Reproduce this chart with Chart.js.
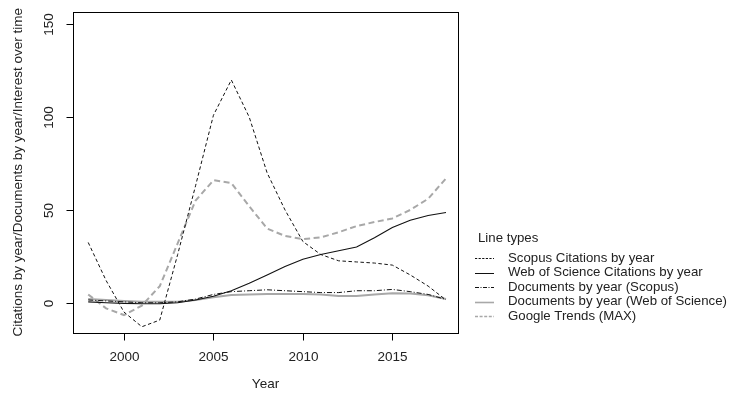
<!DOCTYPE html>
<html>
<head>
<meta charset="utf-8">
<script src="https://cdn.jsdelivr.net/npm/chart.js@4"></script>
<style>
  html, body { margin: 0; padding: 0; background: #fff; }
  #wrap { width: 731px; height: 394px; position: relative; }
</style>
</head>
<body>
<div id="wrap"><canvas id="chart"></canvas></div>
<script>
// values
const years = [1998, 1999, 2000, 2001, 2002, 2003, 2004, 2005, 2006, 2007, 2008,
               2009, 2010, 2011, 2012, 2013, 2014, 2015, 2016, 2017, 2018];
const scopusCitations = [32.5, 12, -5, -12.9, -9.3, 26, 63, 101, 120, 100, 70,
                         50, 33, 26, 22.6, 22, 21.4, 20.3, 15, 9, 1.5];
const wosCitations = [0.5, 0, -0.3, -0.5, -0.5, 0, 1.5, 3.5, 6.5, 10.5, 15,
                      19.5, 23.5, 26, 28, 30, 35, 40.5, 44.5, 47, 48.6];
const docsScopus = [1.5, 1, 0.5, 0, 0, 0.5, 2, 4.5, 6, 6.5, 7,
                    6.5, 6, 5.5, 5.5, 6.5, 6.5, 7.2, 6, 4.5, 1.8];
const docsWos = [2, 1.5, 1, 0.5, 0.5, 0.5, 1.5, 3, 4.2, 4.5, 4.8,
                 4.8, 4.8, 4.5, 3.6, 3.6, 4.5, 5.2, 5, 4, 2];
const googleTrends = [4.5, -3, -6.6, -1.5, 9, 32, 55, 66, 64.5, 52, 40,
                      36, 34.3, 35.2, 38, 41.3, 43.5, 45.4, 50, 56, 67];

const xTicks = [2000, 2005, 2010, 2015];
const yTicks = [0, 50, 100, 150];
const seriesNames = ['Scopus Citations by year', 'Web of Science Citations by year',
                     'Documents by year (Scopus)', 'Documents by year (Web of Science)',
                     'Google Trends (MAX)'];

const FONT = '"Liberation Sans", Arial, Helvetica, sans-serif';

function pts(values) {
    return years.map((y, i) => ({ x: y, y: values[i] }));
}

const styles = [
    { color: '#111', width: 1, dash: [3.5, 2.5], legendDash: [2.2, 1.4] },
    { color: '#111', width: 1.1, dash: [], legendDash: [] },
    { color: '#111', width: 1, dash: [5, 2, 1, 2], legendDash: [4, 1.5, 1, 1.5] },
    { color: '#a8a8a8', width: 2, dash: [], legendDash: [] },
    { color: '#a8a8a8', width: 2, dash: [6, 3.5], legendDash: [3, 1.6] }
];
const seriesValues = [scopusCitations, wosCitations, docsScopus, docsWos, googleTrends];

// axes, box and legend drawn R-style
const rFrame = {
    id: 'rFrame',
    afterDraw(chart) {
        const ctx = chart.ctx;
        const a = chart.chartArea;
        const xs = chart.scales.x, ys = chart.scales.y;
        ctx.save();
        ctx.strokeStyle = '#000';
        ctx.lineWidth = 1;
        ctx.setLineDash([]);
        ctx.strokeRect(Math.round(a.left) + 0.5, Math.round(a.top) + 0.5,
                       Math.round(a.right - a.left), Math.round(a.bottom - a.top));

        ctx.fillStyle = '#222';
        ctx.font = '13.5px ' + FONT;
        // x axis
        ctx.textAlign = 'center';
        ctx.textBaseline = 'middle';
        xTicks.forEach(t => {
            const px = Math.round(xs.getPixelForValue(t)) + 0.5;
            ctx.beginPath();
            ctx.moveTo(px, Math.round(a.bottom) + 0.5);
            ctx.lineTo(px, Math.round(a.bottom) + 7.5);
            ctx.stroke();
            ctx.fillText(String(t), px, 357);
        });
        ctx.fillText('Year', (a.left + a.right) / 2, 384);

        // y axis, labels rotated like R's default
        yTicks.forEach(t => {
            const py = Math.round(ys.getPixelForValue(t)) + 0.5;
            ctx.beginPath();
            ctx.moveTo(Math.round(a.left) + 0.5, py);
            ctx.lineTo(Math.round(a.left) - 6.5, py);
            ctx.stroke();
            ctx.save();
            ctx.translate(49, py);
            ctx.rotate(-Math.PI / 2);
            ctx.fillText(String(t), 0, 0);
            ctx.restore();
        });
        ctx.save();
        ctx.translate(18, (a.top + a.bottom) / 2);
        ctx.rotate(-Math.PI / 2);
        ctx.fillText('Citations by year/Documents by year/Interest over time', 0, 0);
        ctx.restore();

        // legend: font sized so the longest entry spans ~219px as in the reference
        ctx.font = '100px ' + FONT;
        const w = Math.max(...seriesNames.map(n => ctx.measureText(n).width));
        const fs = Math.min(14, 100 * 219 / w);
        ctx.font = fs.toFixed(2) + 'px ' + FONT;
        ctx.textAlign = 'left';
        ctx.fillText('Line types', 478, 238);
        seriesNames.forEach((name, i) => {
            const y = 258.3 + i * 14.4;
            const s = styles[i];
            ctx.save();
            ctx.strokeStyle = s.color;
            ctx.lineWidth = s.width === 2 ? 1.6 : 1;
            ctx.setLineDash(s.legendDash);
            ctx.beginPath();
            ctx.moveTo(475, Math.round(y) + 0.5);
            ctx.lineTo(494, Math.round(y) + 0.5);
            ctx.stroke();
            ctx.restore();
            ctx.fillText(name, 508, y);
        });
        ctx.restore();
    }
};

new Chart(document.getElementById('chart'), {
    type: 'line',
    data: {
        datasets: seriesNames.map((name, i) => ({
            label: name,
            data: pts(seriesValues[i]),
            borderColor: styles[i].color,
            borderWidth: styles[i].width,
            borderDash: styles[i].dash,
            pointRadius: 0,
            tension: 0,
            fill: false
        }))
    },
    options: {
        responsive: true,
        maintainAspectRatio: false,
        animation: false,
        events: [],
        layout: { padding: { left: 73, right: 273, top: 12, bottom: 61.5 } },
        plugins: {
            legend: { display: false },
            tooltip: { enabled: false }
        },
        scales: {
            x: { type: 'linear', min: 1997.15, max: 2018.67, display: false },
            y: { type: 'linear', min: -16.0, max: 156.6, display: false }
        }
    },
    plugins: [rFrame]
});
</script>
</body>
</html>
